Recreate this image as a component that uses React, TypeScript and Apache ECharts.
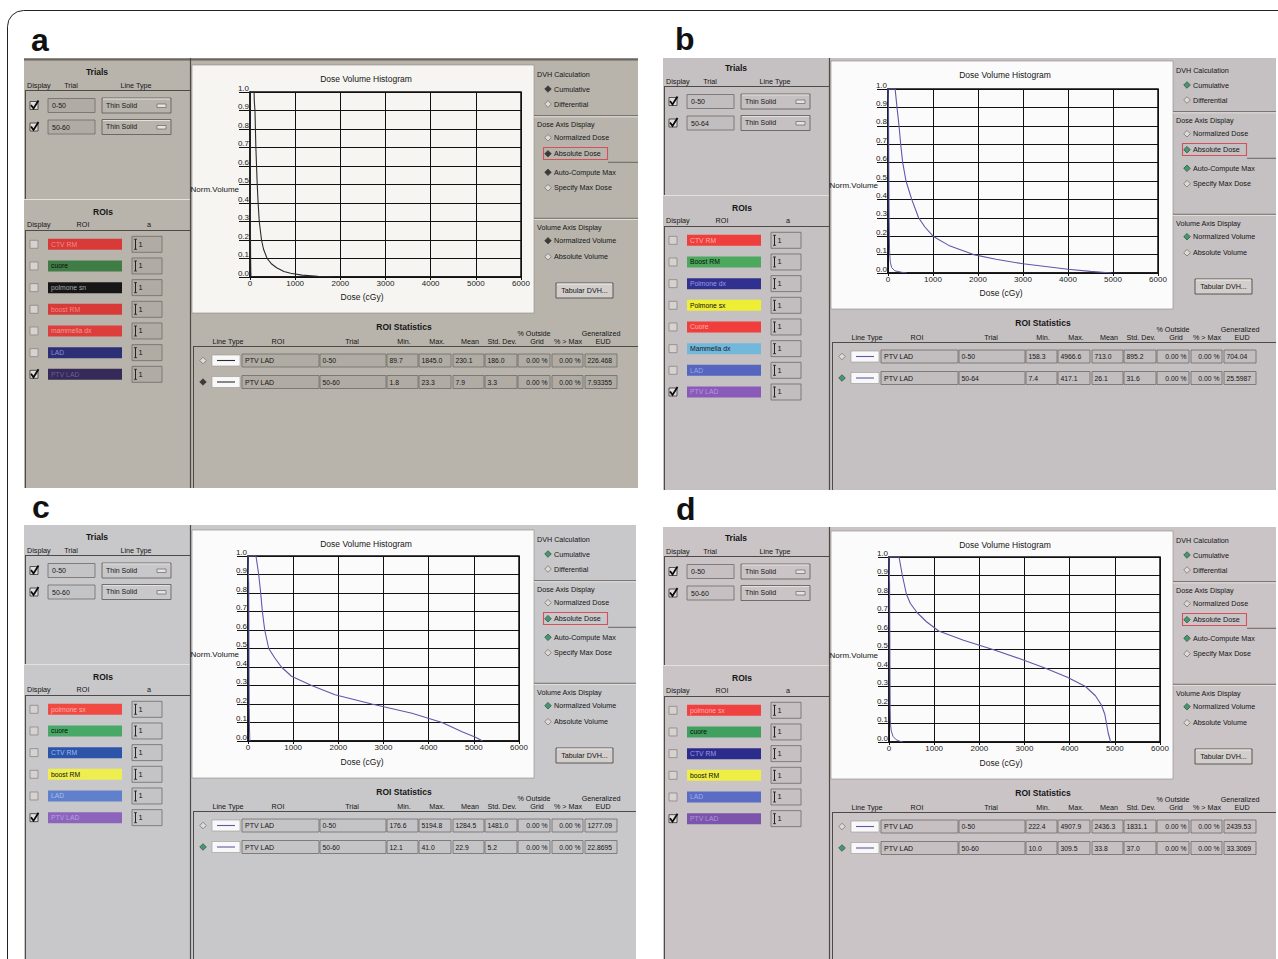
import { useEffect, useRef } from "react";
import * as echarts from "echarts";

const FONT = "'Liberation Sans', Arial, Helvetica, sans-serif";

// ---------- axis ----------
const DOSE_MIN = 0;
const DOSE_MAX = 6000;
const DOSE_STEP = 1000;
const VOL_MIN = 0;
const VOL_MAX = 1;
const VOL_STEP = 0.1;

// ---------- shared labels ----------
const PANEL_LETTERS = ["a", "b", "c", "d"];
const OPTION_LABELS = ["Cumulative", "Differential", "Normalized Dose", "Absolute Dose", "Auto-Compute Max", "Specify Max Dose", "Normalized Volume", "Absolute Volume"];
const OPTION_SELECTED = [true, false, false, true, true, false, true, false];
const STATS_ROI = "PTV LAD";

// ---------- panel a ----------
const trialsA = ["0-50", "50-60"];
const roiNamesA = ["CTV RM", "cuore", "polmone sn", "boost RM", "mammella dx", "LAD", "PTV LAD"];
const roiColorsA = ["#d83a38", "#3f7c46", "#161616", "#d83a38", "#dc3e3c", "#2c2f76", "#352a58"];
const roiTextA = ["#f08a88", "#0c0c0c", "#a8a8a8", "#f08a88", "#f29a98", "#8a90d0", "#6e5e98"];
const statsA1 = ["0-50", "89.7", "1845.0", "230.1", "186.0", "0.00 %", "0.00 %", "226.468"];
const statsA2 = ["50-60", "1.8", "23.3", "7.9", "3.3", "0.00 %", "0.00 %", "7.93355"];
const curveA1 = [[0, 1], [89.7, 1], [95, 0.95], [110, 0.9], [130, 0.7], [160, 0.5], [180, 0.4], [205, 0.3], [255, 0.2], [300, 0.15], [380, 0.1], [480, 0.07], [590, 0.05], [750, 0.03], [900, 0.02], [1150, 0.01], [1500, 0.004], [1845, 0]];
const curveA2 = [[0, 1], [1.8, 1], [4, 0.85], [6, 0.65], [8, 0.45], [11, 0.25], [15, 0.1], [19, 0.03], [23.3, 0]];

// ---------- panel b ----------
const trialsB = ["0-50", "50-64"];
const roiNamesB = ["CTV RM", "Boost RM", "Polmone dx", "Polmone sx", "Cuore", "Mammella dx", "LAD", "PTV LAD"];
const roiColorsB = ["#f03e3c", "#4ca85c", "#30308e", "#eeee34", "#f03e3c", "#72b8da", "#5565c0", "#8a5ab8"];
const roiTextB = ["#ffb0a8", "#0c0c0c", "#9a9ae6", "#0c0c0c", "#ffb0a8", "#102030", "#9aa4e8", "#b898dc"];
const statsB1 = ["0-50", "158.3", "4966.6", "713.0", "895.2", "0.00 %", "0.00 %", "704.04"];
const statsB2 = ["50-64", "7.4", "417.1", "26.1", "31.6", "0.00 %", "0.00 %", "25.5987"];
const curveB1 = [[0, 1], [158.3, 1], [200, 0.9], [245, 0.8], [282, 0.7], [327, 0.6], [400, 0.5], [527, 0.4], [680, 0.3], [820, 0.25], [1000, 0.2], [1350, 0.15], [1900, 0.1], [2400, 0.075], [3000, 0.05], [3500, 0.035], [4000, 0.02], [4500, 0.009], [4966.6, 0]];
const curveB2 = [[0, 1], [7.4, 1], [12, 0.9], [18, 0.6], [25, 0.3], [35, 0.12], [50, 0.06], [80, 0.03], [150, 0.012], [300, 0.004], [417.1, 0]];

// ---------- panel c ----------
const trialsC = ["0-50", "50-60"];
const roiNamesC = ["polmone sx", "cuore", "CTV RM", "boost RM", "LAD", "PTV LAD"];
const roiColorsC = ["#f04a42", "#48a868", "#2c54a8", "#eeee50", "#6080cc", "#8c64bc"];
const roiTextC = ["#ffb0a8", "#0c0c0c", "#a0b8f0", "#0c0c0c", "#a8bcf0", "#b8a0e0"];
const statsC1 = ["0-50", "176.6", "5194.8", "1284.5", "1481.0", "0.00 %", "0.00 %", "1277.09"];
const statsC2 = ["50-60", "12.1", "41.0", "22.9", "5.2", "0.00 %", "0.00 %", "22.8695"];
const curveC1 = [[0, 1], [176.6, 1], [237, 0.9], [281, 0.8], [318, 0.7], [370, 0.6], [459, 0.5], [590, 0.45], [740, 0.4], [963, 0.35], [1407, 0.3], [1926, 0.25], [2740, 0.2], [3630, 0.15], [4296, 0.1], [4740, 0.05], [5037, 0.02], [5194.8, 0]];
const curveC2 = [[0, 1], [12.1, 1], [16, 0.85], [20, 0.6], [24, 0.35], [28, 0.18], [33, 0.07], [41, 0]];

// ---------- panel d ----------
const trialsD = ["0-50", "50-60"];
const roiNamesD = ["polmone sx", "cuore", "CTV RM", "boost RM", "LAD", "PTV LAD"];
const roiColorsD = ["#f04040", "#40a060", "#2c2c8c", "#eeee44", "#5a6cc4", "#7c54ac"];
const roiTextD = ["#ffb0a8", "#0c0c0c", "#9a9ae6", "#0c0c0c", "#a0acec", "#b094d8"];
const statsD1 = ["0-50", "222.4", "4907.9", "2436.3", "1831.1", "0.00 %", "0.00 %", "2439.53"];
const statsD2 = ["50-60", "10.0", "309.5", "33.8", "37.0", "0.00 %", "0.00 %", "33.3069"];
const curveD1 = [[0, 1], [222.4, 1], [296, 0.9], [385, 0.8], [470, 0.75], [620, 0.7], [830, 0.65], [1100, 0.6], [1650, 0.55], [2300, 0.5], [2900, 0.45], [3450, 0.4], [3950, 0.35], [4350, 0.3], [4570, 0.25], [4703, 0.2], [4778, 0.15], [4815, 0.1], [4852, 0.05], [4907.9, 0]];
const curveD2 = [[0, 1], [10, 1], [14, 0.85], [18, 0.6], [22, 0.35], [26, 0.18], [32, 0.1], [50, 0.06], [90, 0.03], [160, 0.012], [240, 0.004], [309.5, 0]];

// ---------- layout (not data) ----------
const PANELS = [
  { ox: 0, oy: 0, bx: 24, by: 58, bw: 614, bh: 430, bg: "#b8b4ac", field: "#b0aca4", white: "#f6f5f1", accent: "#3a3a3a", curve: "#2a2a2a", topLine: true, letter: [31, 40], grid: { left: 250, top: 92, width: 271, height: 185 }, trials: trialsA, rois: roiNamesA, roiColors: roiColorsA, roiText: roiTextA, stats: [statsA1, statsA2], curves: [curveA1, curveA2] },
  { ox: 639, oy: -4, bx: 663, by: 58, bw: 613, bh: 432, bg: "#c5c0c1", field: "#c2bdbe", white: "#fbfbfb", accent: "#3e9b70", curve: "#5f58a8", topLine: false, letter: [675, 39], grid: { left: 888, top: 89, width: 270, height: 184 }, trials: trialsB, rois: roiNamesB, roiColors: roiColorsB, roiText: roiTextB, stats: [statsB1, statsB2], curves: [curveB1, curveB2] },
  { ox: 0, oy: 465, bx: 24, by: 525, bw: 612, bh: 440, bg: "#c8c8ca", field: "#c4c4c6", white: "#fbfbfb", accent: "#3e9b70", curve: "#5f58a8", topLine: false, letter: [32, 507], grid: { left: 248, top: 556, width: 271, height: 185 }, trials: trialsC, rois: roiNamesC, roiColors: roiColorsC, roiText: roiTextC, stats: [statsC1, statsC2], curves: [curveC1, curveC2] },
  { ox: 639, oy: 466, bx: 663, by: 527, bw: 613, bh: 440, bg: "#cac4c6", field: "#c6c0c2", white: "#fbfbfb", accent: "#3e9b70", curve: "#5f58a8", topLine: false, letter: [676, 509], grid: { left: 889, top: 557, width: 271, height: 185 }, trials: trialsD, rois: roiNamesD, roiColors: roiColorsD, roiText: roiTextD, stats: [statsD1, statsD2], curves: [curveD1, curveD2] },
];

const STAT_FIELDS = [[320, 66], [387, 31], [419, 32], [453, 31], [485, 32], [518, 32], [552, 31], [585, 32]];
const STAT_HEADERS: [string, number, number][] = [
  ["Line Type", 228, 341], ["ROI", 278, 341], ["Trial", 352, 341], ["Min.", 404, 341], ["Max.", 437, 341], ["Mean", 470, 341], ["Std. Dev.", 502, 341],
  ["% Outside", 534, 333], ["Grid", 537, 341], ["% > Max", 568, 341], ["Generalized", 601, 333], ["EUD", 603, 341],
];

function txt(x: number, y: number, text: string, o: any = {}) {
  const align = o.align || "left";
  return {
    type: "text", x, y, z: 50, silent: true,
    style: {
      text, fill: o.fill || "#151515", fontSize: o.size || 7.2, fontWeight: o.bold ? "bold" : "normal", fontFamily: FONT,
      align, textAlign: align, verticalAlign: "middle", textVerticalAlign: "middle",
    },
  };
}
function rect(x: number, y: number, w: number, h: number, style: any, z = 5) {
  return { type: "rect", z, silent: true, shape: { x, y, width: w, height: h }, style };
}
function line(x1: number, y1: number, x2: number, y2: number, stroke: string, lw = 1, z = 6) {
  return { type: "line", z, silent: true, shape: { x1, y1, x2, y2 }, style: { stroke, lineWidth: lw } };
}
function diamond(cx: number, cy: number, filled: boolean, accent: string) {
  const r = 3.3;
  return {
    type: "polygon", z: 8, silent: true,
    shape: { points: [[cx, cy - r], [cx + r, cy], [cx, cy + r], [cx - r, cy]] },
    style: filled ? { fill: accent, stroke: "#333", lineWidth: 0.6 } : { fill: "#dedad8", stroke: "#7a7674", lineWidth: 0.8 },
  };
}
function checkbox(x: number, cy: number, checked: boolean) {
  const els: any[] = [rect(x, cy - 4, 8, 8, { fill: checked ? "#e2dedc" : "#d6d2d0", stroke: checked ? "#333" : "#8a8684", lineWidth: 0.8 }, 7)];
  if (checked) {
    els.push({ type: "polyline", z: 9, silent: true, shape: { points: [[x + 1, cy - 0.5], [x + 3.5, cy + 3], [x + 8.5, cy - 5]] }, style: { stroke: "#0a0a0a", lineWidth: 1.8, fill: null } });
  }
  return els;
}

function buildPanel(p: any, idx: number) {
  const X = (v: number) => v + p.ox;
  const Y = (v: number) => v + p.oy;
  const right = p.bx + p.bw;
  const bottom = p.by + p.bh;
  const dark = "#4e4a46";
  const light = "#e4e0dc";
  const els: any[] = [];
  els.push(rect(p.bx, p.by, p.bw, p.bh, { fill: p.bg }, -10));
  if (p.topLine) els.push(line(p.bx, p.by + 1.5, right, p.by + 1.5, "#6a665e", 2, -5));
  els.push(txt(p.letter[0], p.letter[1], PANEL_LETTERS[idx], { size: 32, bold: true, fill: "#111" }));

  // ----- Trials -----
  els.push(txt(X(97), Y(72), "Trials", { bold: true, size: 8.5, align: "center" }));
  els.push(txt(X(27), Y(85), "Display"));
  els.push(txt(X(71), Y(85), "Trial", { align: "center" }));
  els.push(txt(X(136), Y(85), "Line Type", { align: "center" }));
  els.push(line(X(25), Y(90.5), X(190), Y(90.5), dark, 1));
  els.push(line(X(25.5), Y(90), X(25.5), Y(199), dark, 1));
  els.push(line(X(24), Y(199.5), X(190), Y(199.5), light, 1.2));
  p.trials.forEach((t: string, i: number) => {
    const cy = Y(105.5 + i * 21.5);
    els.push(...checkbox(X(30), cy, true));
    els.push(rect(X(48), cy - 7, 47, 14, { fill: p.field, stroke: "#6e6a68", lineWidth: 0.8 }, 6));
    els.push(txt(X(52), cy, t, { size: 7 }));
    els.push(rect(X(102), cy - 7.5, 69, 15, { fill: p.bg, stroke: "#5a5654", lineWidth: 0.8 }, 6));
    els.push(line(X(103), cy - 6.5, X(170), cy - 6.5, light, 1, 7));
    els.push(txt(X(106), cy - 0.5, "Thin Solid", { size: 7 }));
    els.push(rect(X(157), cy - 1.5, 9, 3.5, { fill: "#e6e2e0", stroke: "#555", lineWidth: 0.6 }, 8));
  });

  // ----- ROIs -----
  els.push(txt(X(103), Y(211.5), "ROIs", { bold: true, size: 8.5, align: "center" }));
  els.push(txt(X(27), Y(224), "Display"));
  els.push(txt(X(83), Y(224), "ROI", { align: "center" }));
  els.push(txt(X(149), Y(224), "a", { align: "center" }));
  els.push(line(X(25), Y(230.5), X(190), Y(230.5), dark, 1));
  els.push(line(X(25.5), Y(230), X(25.5), bottom, dark, 1));
  p.rois.forEach((name: string, i: number) => {
    const cy = Y(244.3 + i * 21.67);
    els.push(...checkbox(X(30), cy, i === p.rois.length - 1));
    els.push(rect(X(48), cy - 5.5, 74, 11, { fill: p.roiColors[i] }, 6));
    els.push(txt(X(51), cy, name, { size: 6.8, fill: p.roiText[i] }));
    els.push(rect(X(132), cy - 8, 30, 16, { fill: p.field, stroke: "#6e6a68", lineWidth: 0.8 }, 6));
    els.push(line(X(135.5), cy - 5, X(135.5), cy + 5, "#222", 1, 8));
    els.push(line(X(134), cy - 5, X(137), cy - 5, "#222", 0.8, 8));
    els.push(line(X(134), cy + 5, X(137), cy + 5, "#222", 0.8, 8));
    els.push(txt(X(138.5), cy, "1", { size: 7.5 }));
  });

  // column separator
  els.push(line(X(190.5), p.by, X(190.5), bottom, dark, 1.2));

  // ----- chart frame -----
  els.push(rect(X(192), Y(65), 342, 248, { fill: p.white, stroke: "#8a8684", lineWidth: 0.6 }, -5));
  els.push(txt(X(366), Y(79), "Dose Volume Histogram", { size: 8.5, align: "center" }));
  els.push(txt(X(239), Y(189), "Norm.Volume", { size: 8, align: "right" }));
  els.push(txt(X(362), Y(297), "Dose (cGy)", { size: 8.5, align: "center" }));

  // ----- options -----
  const optY = [89, 104, 137.7, 153.7, 172.3, 187.7, 240.7, 256.7];
  els.push(txt(X(537), Y(74), "DVH Calculation"));
  els.push(txt(X(537), Y(124), "Dose Axis Display"));
  els.push(txt(X(537), Y(227.7), "Volume Axis Display"));
  OPTION_LABELS.forEach((lab, i) => {
    els.push(diamond(X(548), Y(optY[i]), OPTION_SELECTED[i], p.accent));
    els.push(txt(X(554), Y(optY[i]), lab));
  });
  els.push(rect(X(543.5), Y(147.5), 64, 12, { fill: "none", stroke: "#d4505c", lineWidth: 1.1 }, 9));
  els.push(line(X(534), Y(115.7), right, Y(115.7), "#6a6662", 1));
  els.push(line(X(534), Y(116.8), right, Y(116.8), light, 1));
  els.push(line(X(608), Y(162.3), right, Y(162.3), "#6a6662", 1));
  els.push(line(X(534), Y(218.3), right, Y(218.3), "#6a6662", 1));
  els.push(line(X(534), Y(219.4), right, Y(219.4), light, 1));
  els.push(rect(X(556), Y(283), 57, 15, { fill: "#d2cecc", stroke: "#4e4a48", lineWidth: 0.9 }, 6));
  els.push(line(X(557), Y(284), X(612), Y(284), "#f0eeec", 1, 7));
  els.push(txt(X(584.5), Y(290.5), "Tabular DVH...", { align: "center" }));

  // ----- ROI statistics -----
  els.push(txt(X(404), Y(327), "ROI Statistics", { bold: true, size: 8.5, align: "center" }));
  STAT_HEADERS.forEach(([t, x, y]) => els.push(txt(X(x), Y(y), t, { align: "center" })));
  els.push(line(X(193), Y(346.5), right, Y(346.5), dark, 1));
  els.push(line(X(193.5), Y(346), X(193.5), bottom, dark, 1));
  p.stats.forEach((row: string[], r: number) => {
    const cy = Y(360.5 + r * 21.5);
    els.push(diamond(X(203), cy, r === 1, p.accent));
    els.push(rect(X(212), cy - 5.5, 28, 11, { fill: "#f8f8f8", stroke: "#9a9694", lineWidth: 0.6 }, 6));
    els.push(line(X(217), cy, X(235), cy, p.curve, 1.1, 7));
    els.push(rect(X(242), cy - 6.5, 77, 13, { fill: p.field, stroke: "#6e6a68", lineWidth: 0.8 }, 6));
    els.push(txt(X(245), cy, STATS_ROI, { size: 7 }));
    row.forEach((v, k) => {
      const [fx, fw] = STAT_FIELDS[k];
      els.push(rect(X(fx), cy - 6.5, fw, 13, { fill: p.field, stroke: "#6e6a68", lineWidth: 0.8 }, 6));
      const ra = k === 5 || k === 6;
      els.push(txt(ra ? X(fx + fw - 2.5) : X(fx + 2.5), cy, v, { size: 6.8, align: ra ? "right" : "left" }));
    });
  });
  return els;
}

export default function App() {
  const ref = useRef<HTMLDivElement>(null);
  useEffect(() => {
    if (!ref.current) return;
    const chart = echarts.init(ref.current, null, { renderer: "svg" });
    const graphics: any[] = [];
    PANELS.forEach((p, i) => graphics.push(...buildPanel(p, i)));
    graphics.push({ type: "rect", z: 60, silent: true, shape: { x: 7.5, y: 10.5, width: 1300, height: 1000, r: 16 }, style: { fill: "none", stroke: "#222", lineWidth: 1 } });

    const axisColor = "#111";
    const option: any = {
      animation: false,
      backgroundColor: "#ffffff",
      grid: PANELS.map((p) => ({ ...p.grid, show: true, borderColor: axisColor, borderWidth: 1.5, backgroundColor: "transparent", containLabel: false })),
      xAxis: PANELS.map((_, i) => ({
        type: "value", gridIndex: i, min: DOSE_MIN, max: DOSE_MAX, interval: DOSE_STEP,
        axisLine: { show: true, onZero: false, lineStyle: { color: axisColor, width: 1.5 } },
        axisTick: { show: true, length: 3, lineStyle: { color: axisColor } },
        splitLine: { show: true, lineStyle: { color: axisColor, width: 1 } },
        axisLabel: { fontSize: 8, color: "#222", margin: 2, fontFamily: FONT, showMaxLabel: true, showMinLabel: true, formatter: (v: number) => String(Math.round(v)) },
      })),
      yAxis: PANELS.map((_, i) => ({
        type: "value", gridIndex: i, min: VOL_MIN, max: VOL_MAX, interval: VOL_STEP,
        axisLine: { show: true, onZero: false, lineStyle: { color: axisColor, width: 1.5 } },
        axisTick: { show: true, length: 11, lineStyle: { color: axisColor } },
        splitLine: { show: true, lineStyle: { color: axisColor, width: 1 } },
        axisLabel: { fontSize: 8, color: "#222", margin: 1, verticalAlign: "bottom", fontFamily: FONT, formatter: (v: number) => v.toFixed(1), showMaxLabel: true, showMinLabel: true },
      })),
      series: PANELS.flatMap((p, i) => p.curves.map((c, k) => ({
        type: "line", xAxisIndex: i, yAxisIndex: i, data: c, showSymbol: false, silent: true, z: 5,
        lineStyle: { color: p.curve, width: k === 0 ? 1.1 : 1 },
      }))),
      graphic: { elements: graphics },
    };
    chart.setOption(option);
    return () => chart.dispose();
  }, []);
  return <div ref={ref} style={{ position: "absolute", left: 0, top: 0, width: 1278, height: 959 }} />;
}
